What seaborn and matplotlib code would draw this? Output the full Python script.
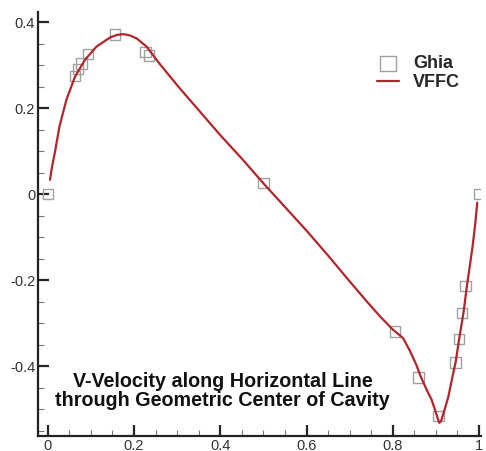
import numpy as np
import pandas as pd
import seaborn as sns
import matplotlib.pyplot as plt
from matplotlib.ticker import MultipleLocator

# Ghia et al. reference points
ghia_x = [1.0000, 0.9688, 0.9609, 0.9531, 0.9453, 0.9063, 0.8594, 0.8047, 0.5000,
          0.2344, 0.2266, 0.1563, 0.0938, 0.0781, 0.0703, 0.0625, 0.0000]
ghia_v = [0.0, -0.21388, -0.27669, -0.33714, -0.39188, -0.51550, -0.42665, -0.31966,
          0.02526, 0.32235, 0.33075, 0.37095, 0.32627, 0.30353, 0.29012, 0.27485, 0.0]

# VFFC curve
vffc_x = [0.005, 0.010, 0.016, 0.027, 0.043, 0.063, 0.086, 0.113, 0.144, 0.160, 0.175,
          0.190, 0.206, 0.229, 0.260, 0.306, 0.350, 0.400, 0.453, 0.500, 0.550, 0.600,
          0.650, 0.700, 0.740, 0.770, 0.800, 0.824, 0.840, 0.855, 0.865, 0.880, 0.890,
          0.900, 0.905, 0.908, 0.912, 0.917, 0.923, 0.929, 0.937, 0.946, 0.954, 0.964,
          0.972, 0.985, 0.991, 0.996]
vffc_v = [0.033, 0.065, 0.095, 0.157, 0.219, 0.273, 0.312, 0.343, 0.364, 0.370, 0.372,
          0.369, 0.362, 0.343, 0.302, 0.246, 0.195, 0.137, 0.079, 0.025, -0.030, -0.085,
          -0.143, -0.203, -0.250, -0.284, -0.315, -0.335, -0.365, -0.398, -0.425, -0.458,
          -0.478, -0.508, -0.524, -0.532, -0.528, -0.512, -0.492, -0.471, -0.432, -0.390,
          -0.337, -0.276, -0.214, -0.123, -0.072, -0.020]

sns.set_style('ticks')
plt.rcParams['font.family'] = ['Liberation Sans', 'DejaVu Sans']

fig = plt.figure(figsize=(4.86, 4.51), dpi=100)
ax = fig.add_axes([0.078, 0.033, 0.912, 0.94])

ghia = pd.DataFrame({'x': ghia_x, 'v': ghia_v})
vffc = pd.DataFrame({'x': vffc_x, 'v': vffc_v})

sns.scatterplot(data=ghia, x='x', y='v', ax=ax, marker='s', s=55,
                facecolor='none', edgecolor='#a0a0a0', linewidth=1.0,
                label='Ghia', zorder=2)
sns.lineplot(data=vffc, x='x', y='v', ax=ax, color='#b0262c', linewidth=1.6,
             label='VFFC', sort=False, zorder=3)

ax.set_xlim(-0.023, 1.005)
ax.set_ylim(-0.563, 0.423)
ax.set_xlabel('')
ax.set_ylabel('')
ax.xaxis.set_minor_locator(MultipleLocator(0.05))
ax.yaxis.set_minor_locator(MultipleLocator(0.05))
ax.set_xticks([0, 0.2, 0.4, 0.6, 0.8, 1.0])
ax.set_xticklabels(['0', '0.2', '0.4', '0.6', '0.8', '1'])
ax.set_yticks([-0.4, -0.2, 0, 0.2, 0.4])
ax.set_yticklabels(['-0.4', '-0.2', '0', '0.2', '0.4'])
ax.tick_params(which='major', direction='in', length=8, width=1.6,
               labelsize=10.5, labelcolor='#333333', pad=2)
ax.tick_params(which='minor', direction='in', length=4, width=0.8, color='#777777')
sns.despine(ax=ax)
for s in ['left', 'bottom']:
    ax.spines[s].set_linewidth(1.6)
    ax.spines[s].set_color('#222222')

leg = ax.legend(loc='upper left', bbox_to_anchor=(0.765, 0.898), frameon=False,
                prop={'weight': 'bold', 'size': 13}, handlelength=1.2,
                handletextpad=0.8, labelspacing=0.1, borderaxespad=0,
                borderpad=0, markerscale=1.5)

ax.text(0.405, -0.458, 'V-Velocity along Horizontal Line\nthrough Geometric Center of Cavity',
        ha='center', va='center', fontsize=14.2, fontweight='bold', color='#111111',
        linespacing=1.05)

fig.savefig('out.png', dpi=100)
